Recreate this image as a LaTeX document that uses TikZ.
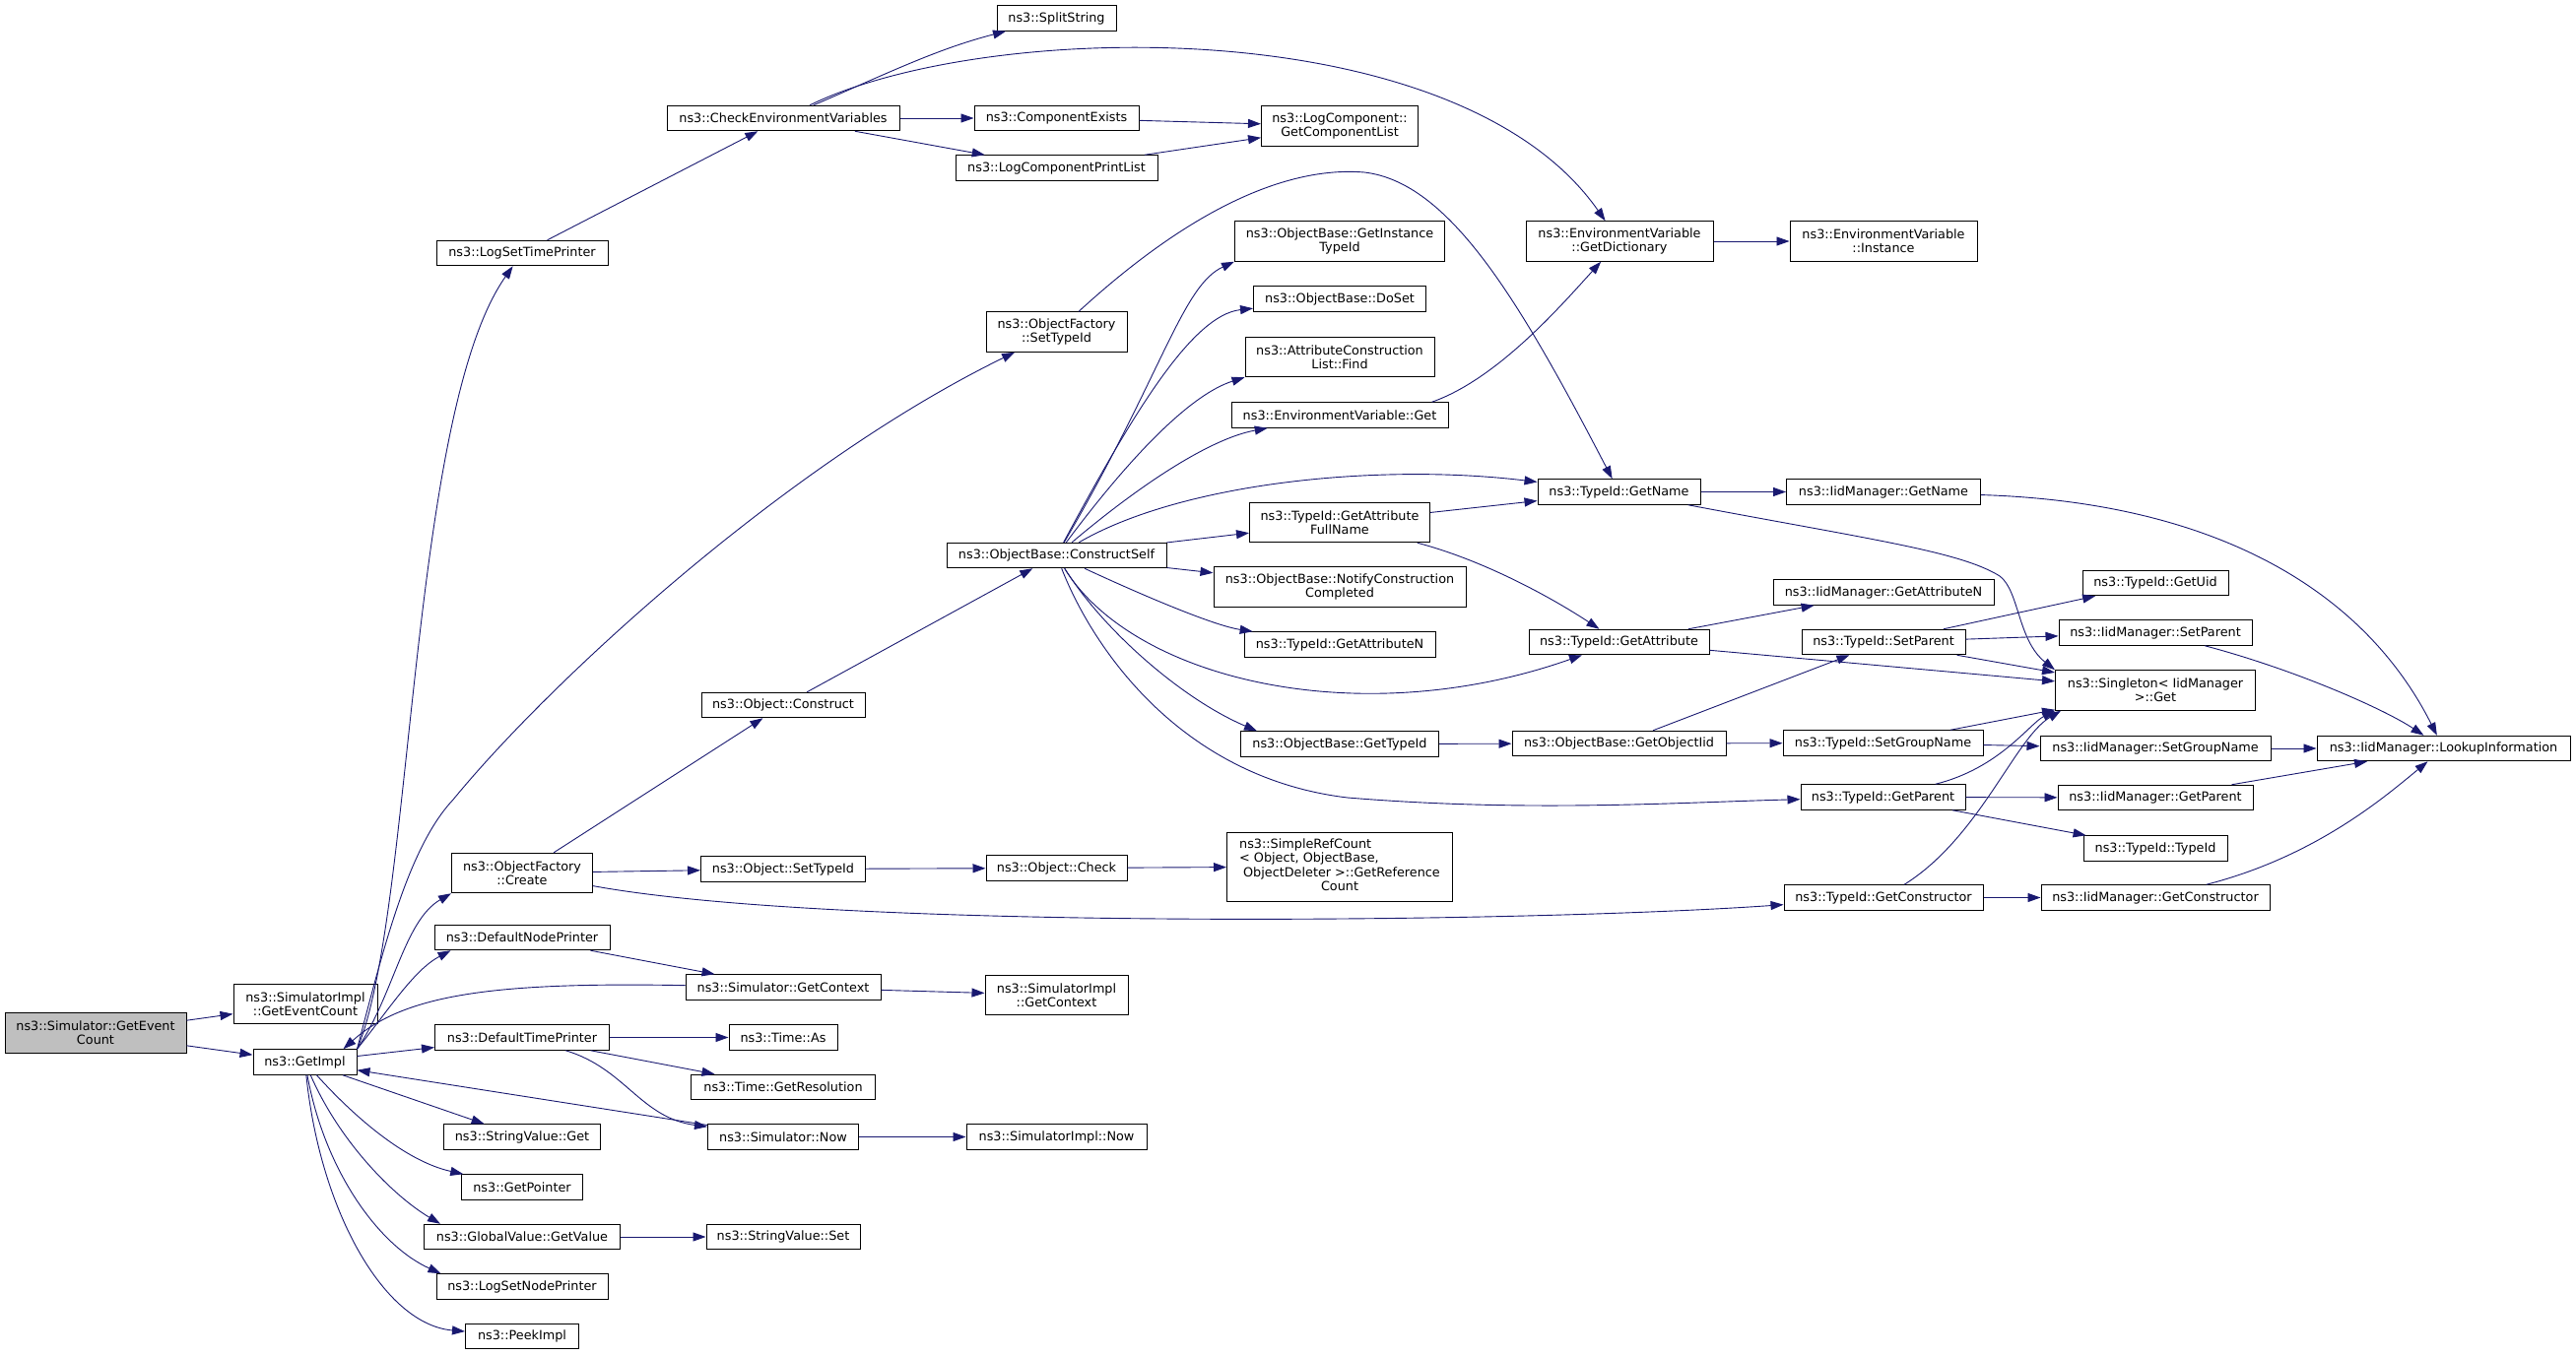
\documentclass[tikz,border=0pt]{standalone}
\usepackage{fontspec}
\setmainfont{DejaVu Sans}
\usetikzlibrary{arrows.meta}
\definecolor{edgeblue}{HTML}{191970}
\definecolor{rootgray}{HTML}{BFBFBF}
\tikzset{
  fn/.style={draw=black, fill=white, line width=1pt, inner sep=0pt, minimum height=25.5pt, align=center, font=\fontsize{12.8}{14.3}\selectfont},
  fntwo/.style={fn, minimum height=40.5pt},
  call/.style={draw=edgeblue, line width=0.9pt, -{Triangle[length=13pt,width=9pt]}}
}
\begin{document}
\begin{tikzpicture}[x=1pt,y=-1pt]
    \useasboundingbox (0,0) rectangle (2615,1376);
    \node[fntwo, fill=rootgray, minimum width=184pt] (root) at (97,1049) {ns3::Simulator::GetEvent\\Count};
    \node[fntwo, minimum width=146pt] (simGetEventCount) at (310,1019.5) {ns3::SimulatorImpl\\::GetEventCount};
    \node[fn, minimum width=105pt] (getImpl) at (309.5,1078.5) {ns3::GetImpl};
    \node[fn, minimum width=174pt] (logSetTimePrinter) at (530,257) {ns3::LogSetTimePrinter};
    \node[fntwo, minimum width=143pt] (objFactCreate) at (530,886.5) {ns3::ObjectFactory\\::Create};
    \node[fn, minimum width=178pt] (defNodePrinter) at (530,952) {ns3::DefaultNodePrinter};
    \node[fn, minimum width=177pt] (defTimePrinter) at (530,1053.5) {ns3::DefaultTimePrinter};
    \node[fn, minimum width=159pt] (stringValueGet) at (530,1154.5) {ns3::StringValue::Get};
    \node[fn, minimum width=123pt] (getPointer) at (530,1205.5) {ns3::GetPointer};
    \node[fn, minimum width=199pt] (globalGetValue) at (530,1256) {ns3::GlobalValue::GetValue};
    \node[fn, minimum width=174pt] (logSetNodePrinter) at (530,1306.5) {ns3::LogSetNodePrinter};
    \node[fn, minimum width=115pt] (peekImpl) at (530,1357) {ns3::PeekImpl};
    \node[fn, minimum width=236pt] (checkEnv) at (795,120) {ns3::CheckEnvironmentVariables};
    \node[fn, minimum width=166pt] (objConstruct) at (795,716) {ns3::Object::Construct};
    \node[fn, minimum width=167pt] (objSetTypeId) at (795,882.5) {ns3::Object::SetTypeId};
    \node[fn, minimum width=198pt] (simGetContext) at (795,1002.5) {ns3::Simulator::GetContext};
    \node[fn, minimum width=110pt] (timeAs) at (795,1053.5) {ns3::Time::As};
    \node[fn, minimum width=187pt] (timeGetRes) at (795,1104) {ns3::Time::GetResolution};
    \node[fn, minimum width=153pt] (simNow) at (795,1154.5) {ns3::Simulator::Now};
    \node[fn, minimum width=156pt] (stringValueSet) at (795,1256) {ns3::StringValue::Set};
    \node[fn, minimum width=121pt] (splitString) at (1072.5,18.5) {ns3::SplitString};
    \node[fn, minimum width=167pt] (componentExists) at (1072.5,120) {ns3::ComponentExists};
    \node[fn, minimum width=205pt] (logCompPrintList) at (1072.5,170.5) {ns3::LogComponentPrintList};
    \node[fntwo, minimum width=143pt] (objFactSetTypeId) at (1072.5,337) {ns3::ObjectFactory\\::SetTypeId};
    \node[fn, minimum width=223pt] (constructSelf) at (1072.5,564) {ns3::ObjectBase::ConstructSelf};
    \node[fn, minimum width=143pt] (objCheck) at (1072.5,881.5) {ns3::Object::Check};
    \node[fntwo, minimum width=145pt] (simImplGetContext) at (1072.5,1010.5) {ns3::SimulatorImpl\\::GetContext};
    \node[fn, minimum width=183pt] (simImplNow) at (1072.5,1154.5) {ns3::SimulatorImpl::Now};
    \node[fntwo, minimum width=159pt] (logCompGetList) at (1360,128) {ns3::LogComponent::\\GetComponentList};
    \node[fntwo, minimum width=213pt] (getInstanceTypeId) at (1360,245) {ns3::ObjectBase::GetInstance\\TypeId};
    \node[fn, minimum width=175pt] (doSet) at (1360,303.5) {ns3::ObjectBase::DoSet};
    \node[fntwo, minimum width=192pt] (attrConstrFind) at (1360,362.5) {ns3::AttributeConstruction\\List::Find};
    \node[fn, minimum width=220pt] (envVarGet) at (1360,421.5) {ns3::EnvironmentVariable::Get};
    \node[fntwo, minimum width=183pt] (getAttrFullName) at (1360,530.5) {ns3::TypeId::GetAttribute\\FullName};
    \node[fntwo, minimum width=256pt] (notifyConstr) at (1360,596) {ns3::ObjectBase::NotifyConstruction\\Completed};
    \node[fn, minimum width=194pt] (getAttributeN) at (1360,654.5) {ns3::TypeId::GetAttributeN};
    \node[fn, minimum width=201pt] (getTypeId) at (1360,755.5) {ns3::ObjectBase::GetTypeId};
    \node[fn, minimum width=229pt, minimum height=70pt] (simpleRefCount) at (1360,880) {\begin{tabular}{@{}l@{}}ns3::SimpleRefCount\\< Object, ObjectBase,\\\hspace*{4pt}ObjectDeleter >::GetReference\\\multicolumn{1}{@{}c@{}}{Count}\end{tabular}};
    \node[fntwo, minimum width=190pt] (envGetDict) at (1644,245) {ns3::EnvironmentVariable\\::GetDictionary};
    \node[fn, minimum width=165pt] (typeIdGetName) at (1643.5,499.5) {ns3::TypeId::GetName};
    \node[fn, minimum width=183pt] (typeIdGetAttribute) at (1643.5,652) {ns3::TypeId::GetAttribute};
    \node[fn, minimum width=217pt] (getObjectIid) at (1643.5,755) {ns3::ObjectBase::GetObjectIid};
    \node[fntwo, minimum width=190pt] (envInstance) at (1912,245) {ns3::EnvironmentVariable\\::Instance};
    \node[fn, minimum width=197pt] (iidGetName) at (1912,499.5) {ns3::IidManager::GetName};
    \node[fn, minimum width=224pt] (iidGetAttributeN) at (1912,601.5) {ns3::IidManager::GetAttributeN};
    \node[fn, minimum width=166pt] (typeIdSetParent) at (1912,652) {ns3::TypeId::SetParent};
    \node[fn, minimum width=203pt] (typeIdSetGroupName) at (1911.5,754.5) {ns3::TypeId::SetGroupName};
    \node[fn, minimum width=167pt] (typeIdGetParent) at (1911.5,809.5) {ns3::TypeId::GetParent};
    \node[fn, minimum width=202pt] (typeIdGetConstructor) at (1912,911.5) {ns3::TypeId::GetConstructor};
    \node[fn, minimum width=148pt] (typeIdGetUid) at (2188,592) {ns3::TypeId::GetUid};
    \node[fn, minimum width=196pt] (iidSetParent) at (2188,642.5) {ns3::IidManager::SetParent};
    \node[fntwo, minimum width=203pt] (singletonGet) at (2188,701) {ns3::Singleton< IidManager\\>::Get};
    \node[fn, minimum width=234pt] (iidSetGroupName) at (2188,760) {ns3::IidManager::SetGroupName};
    \node[fn, minimum width=198pt] (iidGetParent) at (2188,810) {ns3::IidManager::GetParent};
    \node[fn, minimum width=146pt] (typeIdTypeId) at (2188,861.5) {ns3::TypeId::TypeId};
    \node[fn, minimum width=232pt] (iidGetConstructor) at (2188,911.5) {ns3::IidManager::GetConstructor};
    \node[fn, minimum width=257pt] (lookupInfo) at (2480.5,760) {ns3::IidManager::LookupInformation};

    \draw[call] (root) -- (simGetEventCount);
    \draw[call] (root) -- (getImpl);
    \draw[call] (getImpl.north east) .. controls (420,930) and (415,420) .. (logSetTimePrinter);
    \draw[call] (getImpl.north east) .. controls (390,960) and (415,860) .. (460,812) .. controls (560,690) and (800,470) .. (objFactSetTypeId);
    \draw[call] (getImpl.north east) .. controls (400,1010) and (410,935) .. (objFactCreate.south west);
    \draw[call] (getImpl.north east) .. controls (395,1025) and (420,985) .. ([xshift=17pt]defNodePrinter.south west);
    \draw[call] (getImpl) -- (defTimePrinter);
    \draw[call] (getImpl) -- (stringValueGet);
    \draw[call] (getImpl) .. controls (365,1140) and (415,1180) .. (getPointer);
    \draw[call] (getImpl) .. controls (345,1160) and (400,1215) .. ([xshift=17pt]globalGetValue.north west);
    \draw[call] (getImpl) .. controls (330,1190) and (385,1265) .. ([xshift=5pt]logSetNodePrinter.north west);
    \draw[call] (getImpl) .. controls (325,1230) and (390,1345) .. (peekImpl);
    \draw[call] (simGetContext) .. controls (500,997) and (410,1010) .. ([xshift=-14pt]getImpl.north east);
    \draw[call] (simNow) -- (getImpl);
    \draw[call] (defNodePrinter) -- (simGetContext);
    \draw[call] (simGetContext) -- (simImplGetContext);
    \draw[call] (defTimePrinter) -- (timeAs);
    \draw[call] (defTimePrinter) -- (timeGetRes);
    \draw[call] (defTimePrinter) .. controls (635,1085) and (650,1135) .. (simNow);
    \draw[call] (simNow) -- (simImplNow);
    \draw[call] (globalGetValue) -- (stringValueSet);
    \draw[call] (logSetTimePrinter) -- (checkEnv);
    \draw[call] (checkEnv) .. controls (900,75) and (950,50) .. (splitString);
    \draw[call] (checkEnv) .. controls (1000,20) and (1480,10) .. (envGetDict);
    \draw[call] (checkEnv) -- (componentExists);
    \draw[call] (checkEnv) -- (logCompPrintList);
    \draw[call] (componentExists) -- (logCompGetList);
    \draw[call] (logCompPrintList) -- (logCompGetList);
    \draw[call] (envGetDict) -- (envInstance);
    \draw[call] ([xshift=-17pt]envVarGet.north east) .. controls (1520,385) and (1585,310) .. (envGetDict);
    \draw[call] (objFactSetTypeId) .. controls (1200,220) and (1300,168) .. (1385,175) .. controls (1470,185) and (1540,300) .. (typeIdGetName);
    \draw[call] (objFactCreate) -- (objConstruct);
    \draw[call] (objFactCreate) -- (objSetTypeId);
    \draw[call] (objFactCreate) .. controls (850,945) and (1550,937) .. (typeIdGetConstructor);
    \draw[call] (objConstruct) -- (constructSelf);
    \draw[call] (objSetTypeId) -- (objCheck);
    \draw[call] (objCheck) -- (simpleRefCount);
    \draw[call] (constructSelf) .. controls (1180,380) and (1200,290) .. (getInstanceTypeId.south west);
    \draw[call] (constructSelf) .. controls (1150,420) and (1210,320) .. (doSet);
    \draw[call] (constructSelf) .. controls (1150,460) and (1210,400) .. (attrConstrFind.south west);
    \draw[call] (constructSelf) .. controls (1160,490) and (1230,445) .. (envVarGet);
    \draw[call] (constructSelf) .. controls (1200,490) and (1400,470) .. (typeIdGetName);
    \draw[call] (constructSelf) -- (getAttrFullName);
    \draw[call] (constructSelf) -- (notifyConstr);
    \draw[call] (constructSelf) .. controls (1150,600) and (1230,635) .. (getAttributeN);
    \draw[call] (constructSelf) .. controls (1150,690) and (1380,745) .. (typeIdGetAttribute);
    \draw[call] (constructSelf) .. controls (1120,640) and (1200,710) .. ([xshift=17pt]getTypeId.north west);
    \draw[call] (constructSelf) .. controls (1110,660) and (1200,790) .. (1368,810) .. controls (1550,825) and (1700,815) .. (typeIdGetParent);
    \draw[call] (getAttrFullName) -- (typeIdGetName);
    \draw[call] (getAttrFullName) .. controls (1510,570) and (1580,610) .. (typeIdGetAttribute);
    \draw[call] (typeIdGetName) -- (iidGetName);
    \draw[call] (typeIdGetName) .. controls (1900,548) and (1990,560) .. (2030,585) .. controls (2050,600) and (2048,650) .. (singletonGet.north west);
    \draw[call] (typeIdGetAttribute) -- (iidGetAttributeN);
    \draw[call] (typeIdGetAttribute) -- (singletonGet);
    \draw[call] (getTypeId) -- (getObjectIid);
    \draw[call] (getObjectIid) -- (typeIdSetParent);
    \draw[call] (getObjectIid) -- (typeIdSetGroupName);
    \draw[call] (typeIdSetParent) -- (typeIdGetUid);
    \draw[call] (typeIdSetParent) -- (iidSetParent);
    \draw[call] (typeIdSetParent) -- (singletonGet);
    \draw[call] (typeIdSetGroupName) -- (singletonGet);
    \draw[call] (typeIdSetGroupName) -- (iidSetGroupName);
    \draw[call] (typeIdGetParent) .. controls (2030,780) and (2060,735) .. (singletonGet.south west);
    \draw[call] (typeIdGetParent) -- (iidGetParent);
    \draw[call] (typeIdGetParent) -- (typeIdTypeId);
    \draw[call] (typeIdGetConstructor) .. controls (2010,850) and (2045,750) .. ([xshift=6pt]singletonGet.south west);
    \draw[call] (typeIdGetConstructor) -- (iidGetConstructor);
    \draw[call] (iidGetName) .. controls (2250,510) and (2400,600) .. (lookupInfo);
    \draw[call] (iidSetParent) .. controls (2330,680) and (2420,720) .. (lookupInfo);
    \draw[call] (iidSetGroupName) -- (lookupInfo);
    \draw[call] (iidGetParent) -- (lookupInfo);
    \draw[call] (iidGetConstructor) .. controls (2350,870) and (2420,810) .. (lookupInfo);
\end{tikzpicture}
\end{document}
